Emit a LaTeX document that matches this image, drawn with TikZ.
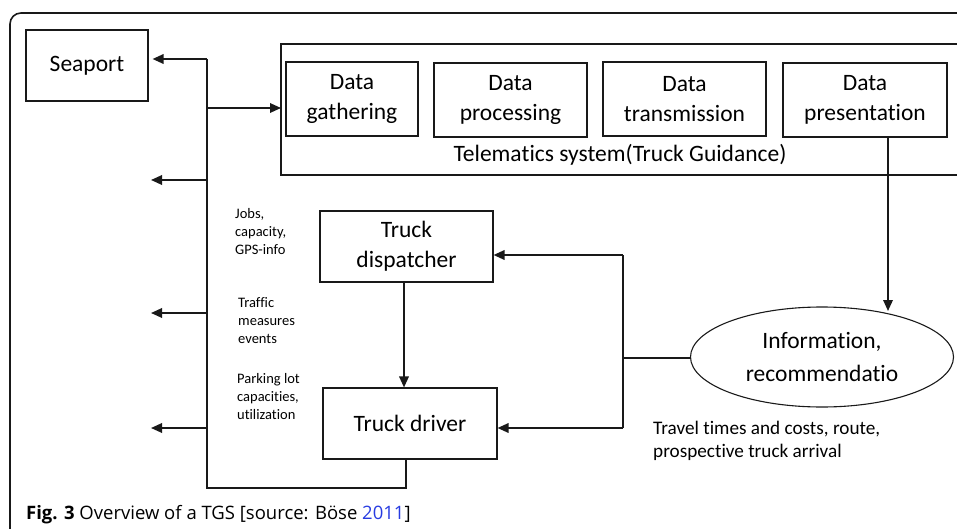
\documentclass[tikz,border=0pt]{standalone}
\usepackage{fontspec}
\setmainfont{Carlito}[Ligatures={NoCommon,NoRare,NoContextual},Contextuals=NoAlternate]
\newfontfamily\capfont{Open Sans}
\usetikzlibrary{arrows.meta,shapes.geometric}
\definecolor{ink}{RGB}{25,25,25}
\definecolor{linkblue}{RGB}{40,60,225}
\tikzset{
  box/.style={draw=ink,line width=1.1pt,rectangle,align=center,inner sep=0pt,
    font=\fontsize{23.5}{30}\selectfont},
  lbl/.style={align=left,inner sep=0pt,anchor=north west,font=\fontsize{14.5}{18}\selectfont},
  arr/.style={draw=ink,line width=1.8pt,-{Triangle[length=11pt,width=9.5pt]}},
  wire/.style={draw=ink,line width=1.3pt},
}
\begin{document}
\begin{tikzpicture}[x=1pt,y=-1pt]
\useasboundingbox (0,0) rectangle (957,529);
\clip (0,0) rectangle (957,529);
% outer frame
\draw[ink,line width=1.6pt,rounded corners=11pt] (10,600) -- (10,13) -- (1000,13);
% telematics frame
\draw[ink,line width=1.1pt] (1000,44) -- (281,44) -- (281,175) -- (1000,175);
\coordinate (telew) at (281,108);
\node[inner sep=0pt,font=\fontsize{23.5}{30}\selectfont] (tele) at (620,155) {Telema\kern0ptt\kern0ptics system(Truck Guidance)};
% boxes
\node[box,minimum width=122pt,minimum height=71pt] (seaport) at (87,65.5) {Seaport};
\node[box,minimum width=132pt,minimum height=74pt] (gather) at (352,99) {Data\\gathering};
\node[box,minimum width=153pt,minimum height=74pt] (process) at (510.5,100) {Data\\processing};
\node[box,minimum width=163pt,minimum height=74pt] (transm) at (684.5,99) {Data\\transmission};
\node[box,minimum width=164pt,minimum height=74pt] (present) at (865,100) {Data\\presentation};
\node[box,minimum width=173pt,minimum height=71pt] (disp) at (406.5,246.5) {Truck\\dispatcher};
\node[box,minimum width=174pt,minimum height=71pt] (driver) at (410,423.5) {Truck driver};
\node[draw=ink,line width=1.1pt,ellipse,minimum width=263pt,minimum height=100pt,inner sep=0pt,
  align=center,font=\fontsize{23.5}{33}\selectfont] (info) at (822,357) {Informat\kern0pt ion,\\recommendat\kern0pt io};
% labels
\node[lbl] (l1) at (235,208) {Jobs,\\capacity,\\GPS-info};
\node[lbl] (l2) at (238,297) {Traffic\\measures\\events};
\node[lbl] (l3) at (237,373) {Parking lot\\capacities,\\utilization};
\node[inner sep=0pt,anchor=north west,align=left,font=\fontsize{19.2}{23}\selectfont] (l4) at (653,421)
  {Travel times and costs, route,\\prospective truck arrival};
% left bus
\coordinate (b1) at (207,59);
\coordinate (b2) at (207,108);
\coordinate (b3) at (207,180);
\coordinate (b4) at (207,313);
\coordinate (b5) at (207,428);
\coordinate (b6) at (207,488);
\coordinate (b7) at (406,488);
\coordinate (a3) at (151,180);
\coordinate (a4) at (151,313);
\coordinate (a5) at (151,428);
\draw[wire] (b1) -- (b6) -- (b7) -- (b7 |- driver.south);
\draw[arr] (b1) -- ([xshift=4pt]seaport.east |- b1);
\draw[arr] (b2) -- (telew);
\draw[arr] (b3) -- (a3);
\draw[arr] (b4) -- (a4);
\draw[arr] (b5) -- (a5);
% dispatcher to driver
\coordinate (dd) at (404,282);
\draw[arr] (dd) -- (dd |- driver.north);
% presentation to info
\coordinate (pp) at (888,137);
\coordinate (pe) at (888,311);
\draw[arr] (pp) -- (pe);
% right bus
\coordinate (r1) at (623,255);
\coordinate (r2) at (623,428);
\coordinate (rm) at (623,358);
\draw[wire] (r1) -- (r2);
\draw[wire] (info.west |- rm) -- (rm);
\draw[arr] (r1) -- (disp.east |- r1);
\draw[arr] (r2) -- (driver.east |- r2);
% caption
\node[inner sep=0pt,anchor=base west,font=\capfont\fontsize{18.5}{20}\selectfont] (cap) at (26,519)
  {\textbf{Fig. 3} Overview of a TGS [source: Böse \textcolor{linkblue}{2011}]};
\end{tikzpicture}
\end{document}
